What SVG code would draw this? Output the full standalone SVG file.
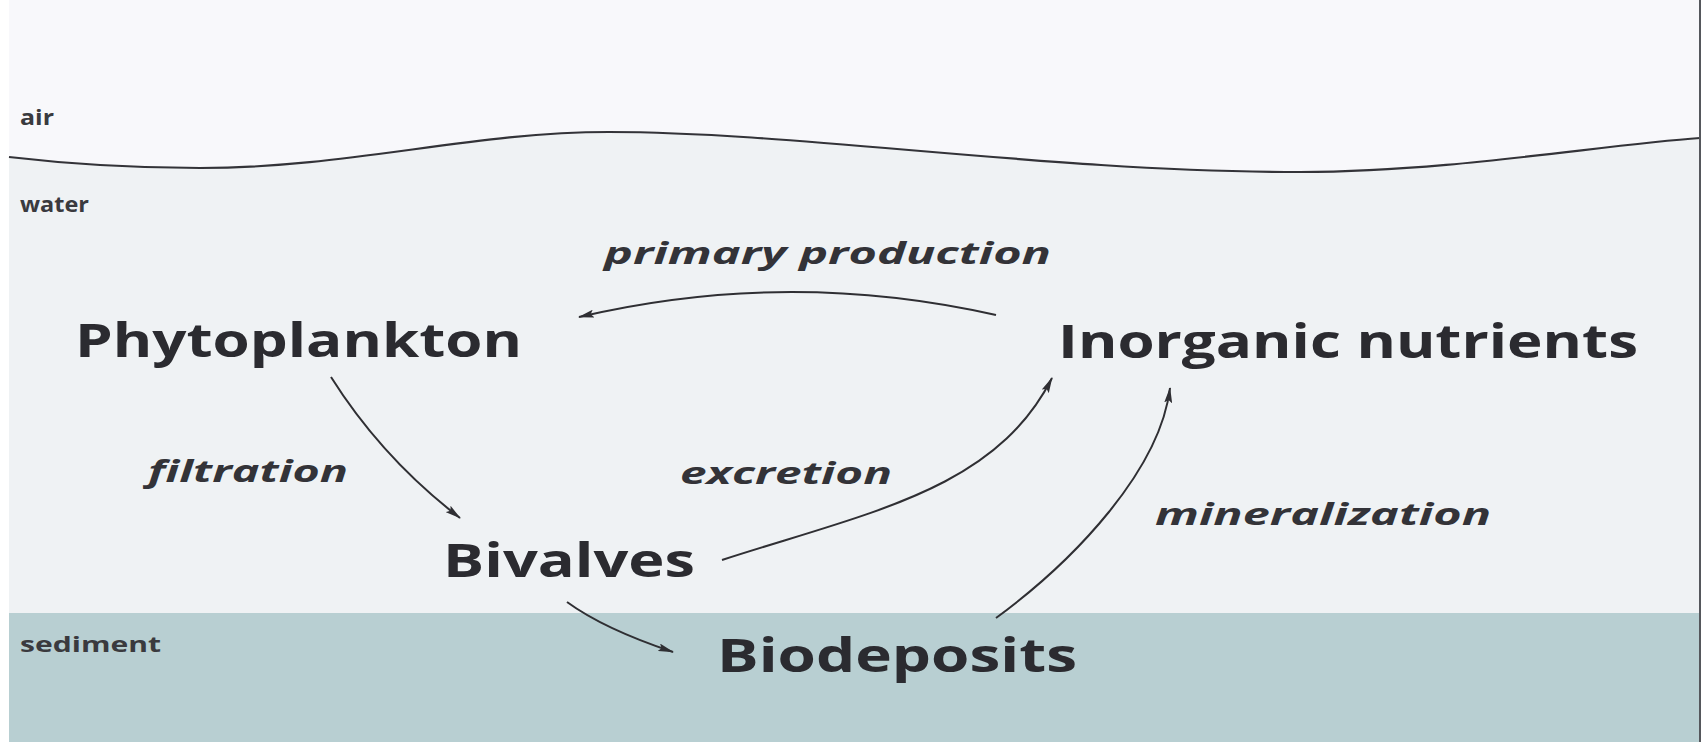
<svg xmlns="http://www.w3.org/2000/svg" width="1706" height="742" viewBox="0 0 1706 742">
  <defs>
    <marker id="ah" viewBox="0 0 16 8" refX="15" refY="4" markerWidth="16" markerHeight="8" markerUnits="userSpaceOnUse" orient="auto">
      <path d="M0,0 L16,4 L0,8 L3,4 z" fill="#2f2f33"/>
    </marker>
  </defs>
  <style>
    .zone { font-family: "Open Sans", "DejaVu Sans", sans-serif; font-weight: 700; font-size: 21px; fill: #3a3a3e; }
    .node { font-family: "Open Sans", "DejaVu Sans", sans-serif; font-weight: 700; font-size: 46px; fill: #2b2b30; }
    .proc { font-family: "Open Sans", "DejaVu Sans", sans-serif; font-weight: 700; font-style: italic; font-size: 31px; fill: #333338; }
    .conn { fill: none; stroke: #2f2f33; stroke-width: 2; marker-end: url(#ah); }
  </style>

  <!-- background zones -->
  <rect x="0" y="0" width="1706" height="742" fill="#ffffff"/>
  <rect x="9" y="0" width="1691" height="742" fill="#f8f8fb"/>
  <path d="M9,157 C60,163 120,168 200,168 C350,168 470,132 609,132 C800,132 1050,172 1300,172 C1450,172 1600,145 1700,138 L1700,613 L9,613 Z" fill="#eff2f4"/>
  <rect x="9" y="613" width="1691" height="129" fill="#b8cfd2"/>
  <path d="M9,157 C60,163 120,168 200,168 C350,168 470,132 609,132 C800,132 1050,172 1300,172 C1450,172 1600,145 1700,138" fill="none" stroke="#333338" stroke-width="2.2"/>
  <line x1="1700" y1="0" x2="1700" y2="742" stroke="#55575c" stroke-width="2"/>

  <g id="zone-labels">
    <text class="zone" x="20" y="125" textLength="34" lengthAdjust="spacingAndGlyphs">air</text>
    <text class="zone" x="20" y="212" textLength="69" lengthAdjust="spacingAndGlyphs">water</text>
    <text class="zone" x="20" y="652" textLength="141" lengthAdjust="spacingAndGlyphs">sediment</text>
  </g>

  <g id="connectors">
    <path class="conn" d="M996,315 Q787,268 579,317"/>
    <path class="conn" d="M331,377 Q382,458 460,518"/>
    <path class="conn" d="M722,560 C870,512 995,490 1052,378"/>
    <path class="conn" d="M567,602 Q604,629 673,652"/>
    <path class="conn" d="M996,618 C1075,560 1160,470 1170,388"/>
  </g>

  <g id="label-primary-production">
    <text class="proc" x="604" y="264" textLength="447" lengthAdjust="spacingAndGlyphs">primary production</text>
  </g>
  <g id="label-filtration">
    <text class="proc" x="148" y="482" textLength="200" lengthAdjust="spacingAndGlyphs">filtration</text>
  </g>
  <g id="label-excretion">
    <text class="proc" x="680" y="484" textLength="212" lengthAdjust="spacingAndGlyphs">excretion</text>
  </g>
  <g id="label-mineralization">
    <text class="proc" x="1155" y="525" textLength="336" lengthAdjust="spacingAndGlyphs">mineralization</text>
  </g>

  <g id="node-phytoplankton">
    <text class="node" x="75" y="357" textLength="447" lengthAdjust="spacingAndGlyphs">Phytoplankton</text>
  </g>
  <g id="node-inorganic-nutrients">
    <text class="node" x="1058" y="358" textLength="580" lengthAdjust="spacingAndGlyphs">Inorganic nutrients</text>
  </g>
  <g id="node-bivalves">
    <text class="node" x="443" y="577" textLength="252" lengthAdjust="spacingAndGlyphs">Bivalves</text>
  </g>
  <g id="node-biodeposits">
    <text class="node" x="717" y="672" textLength="360" lengthAdjust="spacingAndGlyphs">Biodeposits</text>
  </g>
</svg>
